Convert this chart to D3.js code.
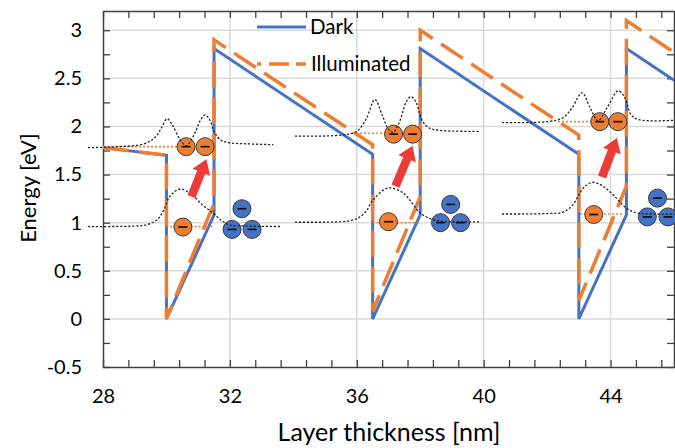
<!DOCTYPE html>
<html><head><meta charset="utf-8">
<script src="https://cdn.jsdelivr.net/npm/d3@7"></script>
<style>
html,body{margin:0;padding:0;background:#fff;}
text{font-family:Lato,"Open Sans",sans-serif;fill:#000;}
</style></head>
<body>
<svg id="chart" width="675" height="448"></svg>
<script>
// ---------- data ----------
const bandX       = [28, 30, 30, 31.5, 31.5, 36.5, 36.5, 38, 38, 43, 43, 44.5, 44.5, 46];
const darkY       = [1.78, 1.70, 0, 1.08, 2.81, 1.71, 0, 1.08, 2.81, 1.71, 0, 1.08, 2.81, 2.48];
const illumY      = [1.78, 1.70, 0, 1.20, 2.90, 1.81, 0.08, 1.27, 3.00, 1.91, 0.19, 1.38, 3.10, 2.77];

const yTickLabels = [-0.5, 0, 0.5, 1, 1.5, 2, 2.5, 3];
const xTickLabels = [28, 32, 36, 40, 44];
const seriesNames = ["Dark", "Illuminated"];

// wavefunction curves (dotted)
const wave1UpX = [27.53, 28.5, 29.3, 29.65, 29.85, 30.02, 30.18, 30.4, 30.62, 30.88, 31.08, 31.22, 31.36, 31.5, 31.7, 32.0, 32.5, 33.37];
const wave1UpY = [1.78, 1.79, 1.82, 1.89, 1.99, 2.08, 2.02, 1.88, 1.80, 1.92, 2.07, 2.12, 2.07, 1.95, 1.86, 1.83, 1.82, 1.81];
const wave1LoX = [27.53, 29.0, 29.4, 29.7, 29.9, 30.1, 30.43, 30.8, 31.15, 31.47, 31.75, 32.0, 32.5, 33.58];
const wave1LoY = [0.96, 0.965, 0.98, 1.03, 1.12, 1.27, 1.35, 1.29, 1.18, 1.10, 1.02, 0.975, 0.965, 0.96];
const wave2UpX = [34.05, 35.5, 36.0, 36.3, 36.57, 36.8, 37.0, 37.15, 37.35, 37.55, 37.71, 37.87, 38.05, 38.25, 38.6, 39.89];
const wave2UpY = [1.90, 1.91, 1.95, 2.08, 2.28, 2.12, 1.97, 1.94, 2.05, 2.25, 2.31, 2.25, 2.07, 1.99, 1.96, 1.95];
const wave2LoX = [34.05, 35.5, 35.9, 36.1, 36.3, 36.5, 36.98, 37.46, 37.75, 38.0, 38.42, 38.8, 39.89];
const wave2LoY = [1.005, 1.01, 1.03, 1.06, 1.12, 1.23, 1.36, 1.31, 1.20, 1.10, 1.03, 1.01, 1.01];
const wave3UpX = [40.58, 42.0, 42.5, 42.8, 43.1, 43.35, 43.6, 43.9, 44.24, 44.45, 44.65, 44.9, 46.1];
const wave3UpY = [2.04, 2.05, 2.09, 2.20, 2.35, 2.20, 2.06, 2.20, 2.37, 2.30, 2.12, 2.07, 2.065];
const wave3LoX = [40.58, 42.0, 42.5, 42.8, 43.0, 43.2, 43.45, 43.8, 44.2, 44.5, 44.84, 45.3, 46.1];
const wave3LoY = [1.09, 1.095, 1.11, 1.18, 1.29, 1.38, 1.42, 1.37, 1.25, 1.15, 1.10, 1.09, 1.09];

// orange dotted level lines: [x0, x1, y]
const levelX0 = [28, 30.0, 35.85, 36.5, 42.34, 43.04];
const levelX1 = [30.62, 31.47, 37.14, 38.0, 43.57, 44.4];
const levelY  = [1.79, 0.96, 1.93, 1.00, 2.05, 1.09];

// electrons
const orangeEX = [30.62, 31.22, 30.52, 37.16, 37.76, 37.0, 43.66, 44.23, 43.47];
const orangeEY = [1.79, 1.79, 0.955, 1.92, 1.92, 1.01, 2.05, 2.05, 1.085];
const blueEX   = [32.38, 32.07, 32.70, 38.96, 38.64, 39.27, 45.48, 45.16, 45.81];
const blueEY   = [1.145, 0.93, 0.93, 1.19, 1.0, 1.0, 1.255, 1.06, 1.06];

// excitation arrows (tail -> tip)
const arrowX0 = [30.79, 37.22, 43.73];
const arrowY0 = [1.27, 1.38, 1.475];
const arrowX1 = [31.26, 37.76, 44.2];
const arrowY1 = [1.66, 1.80, 1.88];

// ---------- drawing ----------
const BLUE = "#4472c4", ORANGE = "#ed7d31", RED = "#ef3b36";
const svg = d3.select("#chart");
const L = 103, R = 674, T = 11, B = 367;
const x = d3.scaleLinear().domain([28, 46]).range([L, R]);
const y = d3.scaleLinear().domain([-0.5, 3.2]).range([B, T]);

// gridlines
const g = svg.append("g");
g.selectAll(".hg").data(yTickLabels.filter(v => v > -0.5)).join("line")
  .attr("x1", L).attr("x2", R).attr("y1", d => y(d)).attr("y2", d => y(d))
  .attr("stroke", "#d9d9d9").attr("stroke-width", 1.5);
g.selectAll(".vg").data(xTickLabels.filter(v => v > 28)).join("line")
  .attr("y1", T).attr("y2", B).attr("x1", d => x(d)).attr("x2", d => x(d))
  .attr("stroke", "#d9d9d9").attr("stroke-width", 1.5);

// axes
const yMinor = d3.range(-0.5, 3.2001, 0.25);
const xMinor = d3.range(28, 46.001, 0.8);
const isHalf = d => Math.abs(d * 2 - Math.round(d * 2)) < 1e-6;
const isFour = d => Math.abs(d / 4 - Math.round(d / 4)) < 1e-6;

function styleAxis(sel) {
  sel.selectAll("path.domain").attr("stroke", "#404040").attr("stroke-width", 1.5);
  sel.selectAll(".tick line").attr("stroke", "#404040").attr("stroke-width", 1.3);
  sel.selectAll("text").attr("font-size", 20).attr("font-family", "Lato").attr("fill", "#111");
}
svg.append("g").attr("transform", `translate(${L},0)`)
  .call(d3.axisLeft(y).tickValues(yMinor).tickSizeInner(-7).tickSizeOuter(0).tickPadding(21)
        .tickFormat(d => isHalf(d) ? String(+d.toFixed(2)) : ""))
  .call(styleAxis);
svg.append("g").attr("transform", `translate(${R},0)`)
  .call(d3.axisRight(y).tickValues(yMinor).tickSizeInner(-7).tickSizeOuter(0).tickFormat(""))
  .call(styleAxis);
svg.append("g").attr("transform", `translate(0,${B})`)
  .call(d3.axisBottom(x).tickValues(xMinor).tickSizeInner(-7).tickSizeOuter(0).tickPadding(22)
        .tickFormat(d => isFour(d) ? String(Math.round(d)) : ""))
  .call(styleAxis);
svg.append("g").attr("transform", `translate(0,${T})`)
  .call(d3.axisTop(x).tickValues(xMinor).tickSizeInner(-7).tickSizeOuter(0).tickFormat(""))
  .call(styleAxis);

// axis titles
svg.append("text").attr("x", 389).attr("y", 441).attr("text-anchor", "middle")
  .attr("font-size", 25).text("Layer thickness [nm]");
svg.append("text").attr("transform", "translate(36,188) rotate(-90)").attr("text-anchor", "middle")
  .attr("font-size", 22).text("Energy [eV]");

// band lines
const line = d3.line().x(d => x(d[0])).y(d => y(d[1]));
svg.append("path").datum(bandX.map((v, i) => [v, darkY[i]])).attr("d", line)
  .attr("fill", "none").attr("stroke", BLUE).attr("stroke-width", 3).attr("stroke-linejoin", "miter");
svg.append("path").datum(bandX.map((v, i) => [v, illumY[i]])).attr("d", line)
  .attr("fill", "none").attr("stroke", ORANGE).attr("stroke-width", 3.5)
  .attr("stroke-dasharray", "26,10");

// orange dotted levels
svg.selectAll(".lvl").data(levelY).join("line")
  .attr("x1", (d, i) => x(levelX0[i])).attr("x2", (d, i) => x(levelX1[i]))
  .attr("y1", d => y(d)).attr("y2", d => y(d))
  .attr("stroke", ORANGE).attr("stroke-width", 1.6).attr("stroke-dasharray", "2,2");

// electrons
function electrons(xs, ys, fill) {
  const e = svg.append("g").selectAll("g").data(xs).join("g")
    .attr("transform", (d, i) => `translate(${x(d)},${y(ys[i])})`);
  e.append("circle").attr("r", 9).attr("fill", fill).attr("stroke", "#3a3a3a").attr("stroke-width", 1);
  e.append("line").attr("x1", -4.5).attr("x2", 4.5).attr("stroke", "#111").attr("stroke-width", 1.7);
}
electrons(orangeEX, orangeEY, ORANGE);
electrons(blueEX, blueEY, BLUE);

// wavefunctions
const waves = [[wave1UpX, wave1UpY], [wave1LoX, wave1LoY], [wave2UpX, wave2UpY],
               [wave2LoX, wave2LoY], [wave3UpX, wave3UpY], [wave3LoX, wave3LoY]];
const wline = d3.line().x(d => x(d[0])).y(d => y(d[1])).curve(d3.curveCatmullRom.alpha(0.5));
waves.forEach(([xs, ys]) => {
  svg.append("path").datum(xs.map((v, i) => [v, ys[i]])).attr("d", wline)
    .attr("fill", "none").attr("stroke", "#222").attr("stroke-width", 1.3)
    .attr("stroke-dasharray", "2.2,1.8");
});

// arrows
arrowX0.forEach((v, i) => {
  const x0 = x(v), y0 = y(arrowY0[i]), x1 = x(arrowX1[i]), y1 = y(arrowY1[i]);
  const dx = x1 - x0, dy = y1 - y0, len = Math.hypot(dx, dy);
  const ux = dx / len, uy = dy / len, px = -uy, py = ux;
  const hl = 14, sw = 4.3, hw = 9.5;
  const bx = x1 - ux * hl, by = y1 - uy * hl;
  const pts = [
    [x0 + px * sw, y0 + py * sw], [bx + px * sw, by + py * sw], [bx + px * hw, by + py * hw],
    [x1, y1], [bx - px * hw, by - py * hw], [bx - px * sw, by - py * sw], [x0 - px * sw, y0 - py * sw]
  ];
  svg.append("path").attr("d", "M" + pts.map(p => p.join(",")).join("L") + "Z").attr("fill", RED);
});

// legend
const lg = svg.append("g");
lg.append("line").attr("x1", 257).attr("x2", 306).attr("y1", 27).attr("y2", 27)
  .attr("stroke", BLUE).attr("stroke-width", 3);
lg.append("text").attr("x", 310).attr("y", 27).attr("dy", "0.35em").attr("font-size", 20.5).text(seriesNames[0]);
lg.append("line").attr("x1", 257).attr("x2", 306).attr("y1", 64).attr("y2", 64)
  .attr("stroke", ORANGE).attr("stroke-width", 3.5).attr("stroke-dasharray", "4,8,20,7,20");
lg.append("text").attr("x", 311).attr("y", 64).attr("dy", "0.35em").attr("font-size", 20.5).text(seriesNames[1]);
</script>
</body></html>
